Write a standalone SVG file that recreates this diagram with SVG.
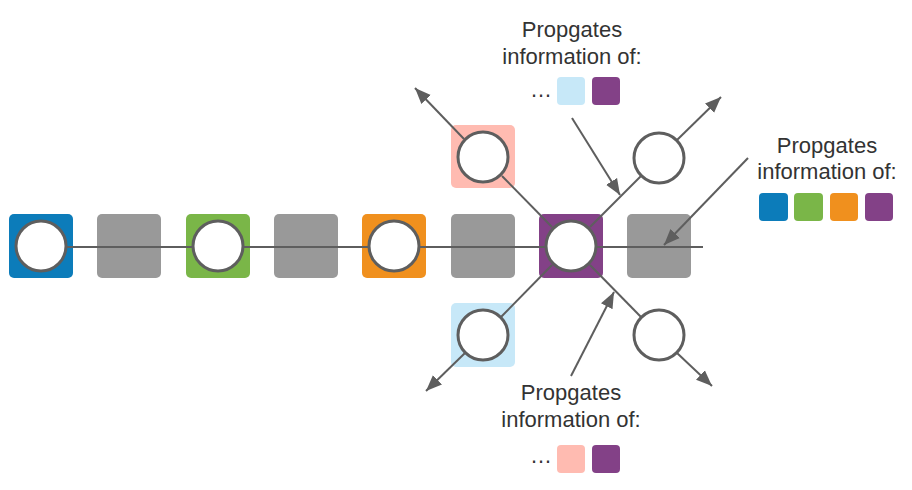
<svg xmlns="http://www.w3.org/2000/svg" width="912" height="490" viewBox="0 0 912 490">
<defs>
<style>
.sq{stroke:none}
.c{fill:#fff;stroke:#5e5e5e;stroke-width:3}
.ln{stroke:#5e5e5e;stroke-width:2;fill:none}
.ar{stroke:#5e5e5e;stroke-width:2;fill:none;marker-end:url(#ah)}
.t{font-family:"Liberation Sans",Arial,sans-serif;font-size:22px;fill:#333;text-anchor:middle}
.blue{fill:#0c7cba}.green{fill:#7ab648}.orange{fill:#f0901e}.purple{fill:#834187}.gray{fill:#999}.pink{fill:#ffbbb1}.lblue{fill:#c7e8f8}
</style>
<marker id="ah" markerUnits="userSpaceOnUse" markerWidth="17" markerHeight="14" refX="16" refY="7" orient="auto" viewBox="0 0 17 14">
<path d="M0,0.5 L16,7 L0,13.5 z" fill="#5e5e5e"/>
</marker>
</defs>
<rect width="912" height="490" fill="#fff"/>

<g id="n-blue"><rect class="sq blue" x="9" y="214" width="64" height="64" rx="5"/><circle class="c" cx="41" cy="246" r="25"/></g>
<g id="n-gray1"><rect class="sq gray" x="97" y="214" width="64" height="64" rx="5"/></g>
<g id="n-green"><rect class="sq green" x="186" y="214" width="64" height="64" rx="5"/><circle class="c" cx="218" cy="246" r="25"/></g>
<g id="n-gray2"><rect class="sq gray" x="274" y="214" width="64" height="64" rx="5"/></g>
<g id="n-orange"><rect class="sq orange" x="362" y="214" width="64" height="64" rx="5"/><circle class="c" cx="394" cy="246" r="25"/></g>
<g id="n-gray3"><rect class="sq gray" x="451" y="214" width="64" height="64" rx="5"/></g>
<g id="n-purple"><rect class="sq purple" x="539" y="214" width="64" height="64" rx="5"/><circle class="c" cx="571" cy="246" r="25"/></g>
<g id="n-gray4"><rect class="sq gray" x="627" y="214" width="64" height="64" rx="5"/></g>
<g id="n-pink"><rect class="sq pink" x="451" y="125" width="64" height="63" rx="5"/><circle class="c" cx="483" cy="157" r="25"/></g>
<g id="n-tr"><circle class="c" cx="659" cy="158" r="25"/></g>
<g id="n-lblue"><rect class="sq lblue" x="451" y="303" width="64" height="64" rx="5"/><circle class="c" cx="483" cy="335" r="25"/></g>
<g id="n-br"><circle class="c" cx="659" cy="335" r="25"/></g>

<g id="connectors">
<line class="ln" x1="67" y1="247" x2="192" y2="247"/>
<line class="ln" x1="244" y1="247" x2="368" y2="247"/>
<line class="ln" x1="420" y1="247" x2="545" y2="247"/>
<line class="ln" x1="597" y1="247" x2="703" y2="247"/>
<line class="ln" x1="552" y1="227" x2="502" y2="176"/>
<path class="ar" d="M464,139 L415,88"/>
<line class="ln" x1="590" y1="227" x2="641" y2="176"/>
<path class="ar" d="M677,140 L721,97"/>
<line class="ln" x1="552" y1="265" x2="501" y2="317"/>
<path class="ar" d="M465,353 L426,391"/>
<line class="ln" x1="590" y1="265" x2="641" y2="317"/>
<path class="ar" d="M677,353 L712,386"/>
<path class="ar" d="M572,118 L620,195"/>
<path class="ar" d="M571,376 L614,292"/>
<path class="ar" d="M748,158 L664,245"/>
</g>

<g id="label-top">
<text class="t" x="572" y="37">Propgates</text>
<text class="t" x="572" y="64">information of:</text>
<text class="t" x="541" y="97">…</text>
<rect class="lblue" x="557" y="77" width="28" height="28" rx="4"/>
<rect class="purple" x="592" y="77" width="28" height="28" rx="4"/>
</g>
<g id="label-bottom">
<text class="t" x="571" y="400">Propgates</text>
<text class="t" x="571" y="427">information of:</text>
<text class="t" x="541" y="463">…</text>
<rect class="pink" x="557" y="445" width="28" height="28" rx="4"/>
<rect class="purple" x="592" y="445" width="28" height="28" rx="4"/>
</g>
<g id="label-right">
<text class="t" x="827" y="153">Propgates</text>
<text class="t" x="827" y="179">information of:</text>
<rect class="blue" x="759" y="193" width="29" height="28" rx="4"/>
<rect class="green" x="794" y="193" width="29" height="28" rx="4"/>
<rect class="orange" x="830" y="193" width="28" height="28" rx="4"/>
<rect class="purple" x="865" y="193" width="28" height="28" rx="4"/>
</g>
</svg>
